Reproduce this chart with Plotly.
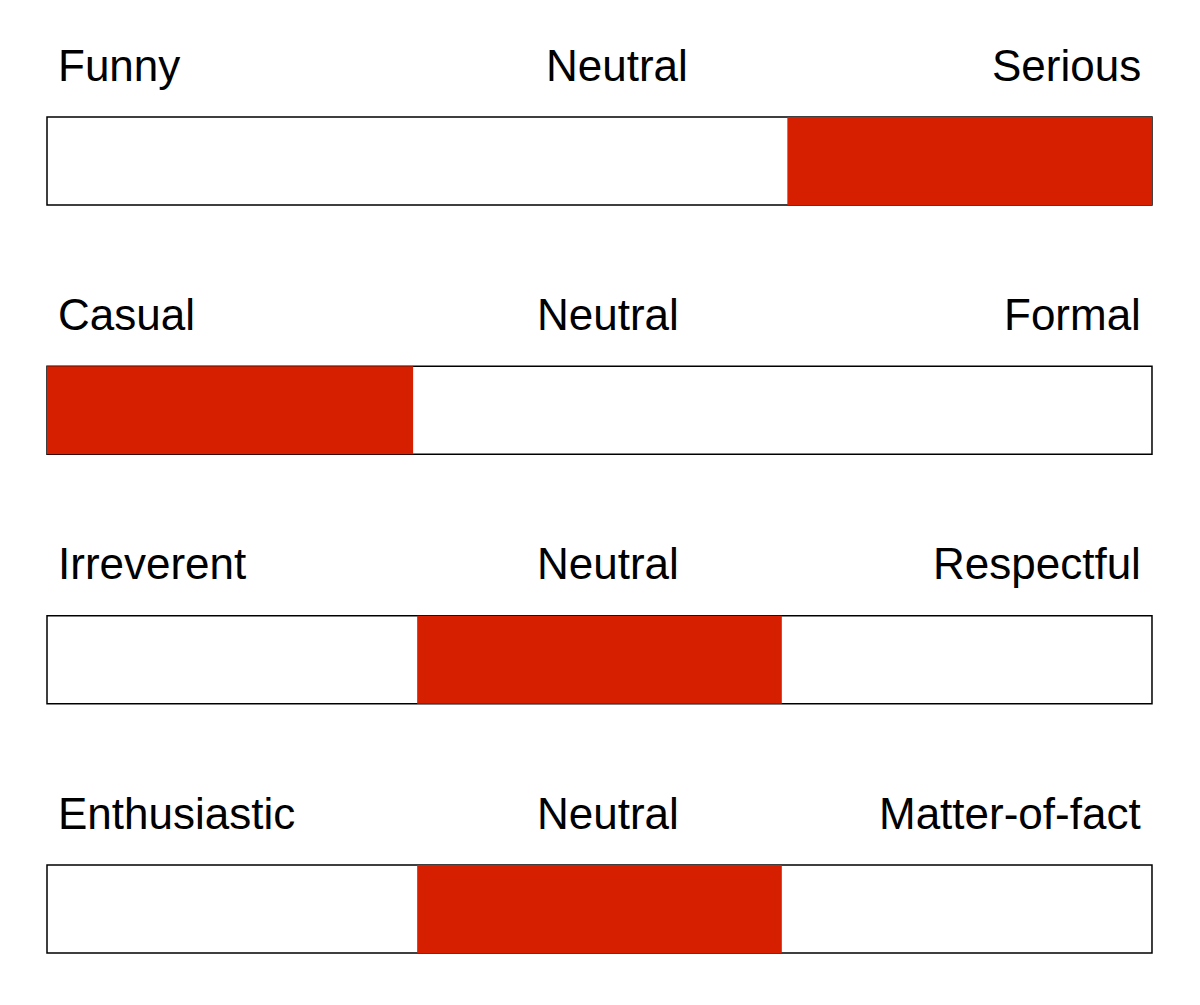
import plotly.graph_objects as go

# ---- data ----
left_labels = ["Funny", "Casual", "Irreverent", "Enthusiastic"]
mid_labels = ["Neutral", "Neutral", "Neutral", "Neutral"]
right_labels = ["Serious", "Formal", "Respectful", "Matter-of-fact"]
rows = [0, 1, 2, 3]
seg_start = [2.01, 0.0, 1.005, 1.005]   # selected segment start (scale 0..3)
seg_width = [0.99, 0.994, 0.99, 0.99]
scale_min = [0, 0, 0, 0]
scale_len = [3, 3, 3, 3]

RED = "#D61F00"
FONT = "Liberation Sans, Arial, Helvetica, sans-serif"
BAR_W = 0.353

# page body has an 8px margin, so compensate
X0 = 39.0       # px of scale start
XU = 368.33     # px per scale unit
Y0 = 153.0      # px of first row center
YU = 249.33     # px per row

fig = go.Figure()
fig.add_trace(go.Bar(
    orientation="h", y=rows, x=scale_len, base=scale_min, width=BAR_W,
    marker=dict(color="white", line=dict(color="black", width=1.5)),
    hoverinfo="skip", showlegend=False,
))
fig.add_trace(go.Bar(
    orientation="h", y=rows, x=seg_width, base=seg_start, width=BAR_W,
    marker=dict(color=RED, line=dict(width=0)),
    hoverinfo="skip", showlegend=False,
))

label_offset = 0.385
mid_shift = [17, 8.5, 8.5, 8.5]
for r, lt, mt, rt, ms in zip(rows, left_labels, mid_labels, right_labels, mid_shift):
    yy = r - label_offset
    fig.add_annotation(x=0, y=yy, text=lt, showarrow=False, xanchor="left",
                       yanchor="middle", xshift=9)
    fig.add_annotation(x=1.5, y=yy, text=mt, showarrow=False, xanchor="center",
                       yanchor="middle", xshift=ms)
    fig.add_annotation(x=3, y=yy, text=rt, showarrow=False, xanchor="right",
                       yanchor="middle", xshift=-9)

fig.update_layout(
    width=1200, height=1005,
    margin=dict(l=0, r=0, t=0, b=0),
    paper_bgcolor="white", plot_bgcolor="white",
    barmode="overlay",
    font=dict(family=FONT, size=44, color="black"),
    xaxis=dict(range=[-X0 / XU, (1200 - X0) / XU], visible=False,
               showgrid=False, zeroline=False, fixedrange=True),
    yaxis=dict(range=[(1005 - Y0) / YU, -Y0 / YU], visible=False,
               showgrid=False, zeroline=False, fixedrange=True),
)

fig.write_html("out.html")
